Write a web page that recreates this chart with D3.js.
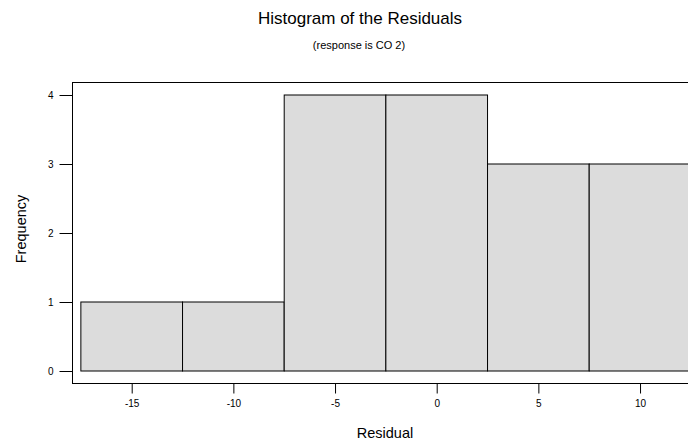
<!DOCTYPE html>
<html>
<head>
<meta charset="utf-8">
<script src="https://cdn.jsdelivr.net/npm/d3@7"></script>
<style>
  body { margin: 0; background: #fff; }
  text { font-family: "Liberation Sans", Arial, sans-serif; fill: #000; }
</style>
</head>
<body>
<svg id="chart" width="688" height="443"></svg>
<script>
// bin edges of the residuals and the count in each bin
var binStart = [-17.5, -12.5, -7.5, -2.5, 2.5, 7.5];
var binEnd = [-12.5, -7.5, -2.5, 2.5, 7.5, 12.5];
var counts = [1, 1, 4, 4, 3, 3];
var xTicks = [-15, -10, -5, 0, 5, 10];
var yTicks = [0, 1, 2, 3, 4];

var svg = d3.select("#chart");

// frame of the plot area
var frame = { left: 72, top: 82, right: 700, bottom: 383 };

var x = d3.scaleLinear().domain([-15, 0]).range([131.7, 436.7]);
var y = d3.scaleLinear().domain([0, 4]).range([371, 95]);

// plain labels, hyphen for minus
function plain(d) { return String(d); }

// bars
svg.append("g")
    .selectAll("rect")
    .data(counts)
    .enter()
    .append("rect")
    .attr("x", function (d, i) { return x(binStart[i]); })
    .attr("y", function (d) { return y(d); })
    .attr("width", function (d, i) { return x(binEnd[i]) - x(binStart[i]); })
    .attr("height", function (d) { return y(0) - y(d); })
    .style("fill", "#dcdcdc")
    .style("stroke", "#000")
    .style("stroke-width", 1);

svg.append("rect")
    .attr("x", frame.left + 0.5)
    .attr("y", frame.top + 0.5)
    .attr("width", frame.right - frame.left)
    .attr("height", frame.bottom - frame.top)
    .style("fill", "none")
    .style("stroke", "#000")
    .style("stroke-width", 1);

// y axis
var yAxis = d3.axisLeft(y).tickValues(yTicks).tickFormat(plain).tickSize(13).tickPadding(6);
var gy = svg.append("g")
    .attr("transform", "translate(" + (frame.left + 0.5) + ",0)")
    .call(yAxis);
gy.select(".domain").remove();
gy.selectAll("text").style("font-size", "10px").style("font-family", "Liberation Sans, Arial, sans-serif");

// x axis
var xAxis = d3.axisBottom(x).tickValues(xTicks).tickFormat(plain).tickSize(10).tickPadding(6);
var gx = svg.append("g")
    .attr("transform", "translate(0," + (frame.bottom + 0.5) + ")")
    .call(xAxis);
gx.select(".domain").remove();
gx.selectAll("text").style("font-size", "10px").style("font-family", "Liberation Sans, Arial, sans-serif");

// titles
svg.append("text")
    .attr("x", 360)
    .attr("y", 24)
    .attr("text-anchor", "middle")
    .style("font-size", "17px")
    .text("Histogram of the Residuals");

svg.append("text")
    .attr("x", 359)
    .attr("y", 49)
    .attr("text-anchor", "middle")
    .style("font-size", "11px")
    .text("(response is CO 2)");

svg.append("text")
    .attr("x", 385)
    .attr("y", 438)
    .attr("text-anchor", "middle")
    .style("font-size", "14.5px")
    .text("Residual");

svg.append("text")
    .attr("transform", "translate(26,229) rotate(-90)")
    .attr("text-anchor", "middle")
    .style("font-size", "14.5px")
    .text("Frequency");
</script>
</body>
</html>
